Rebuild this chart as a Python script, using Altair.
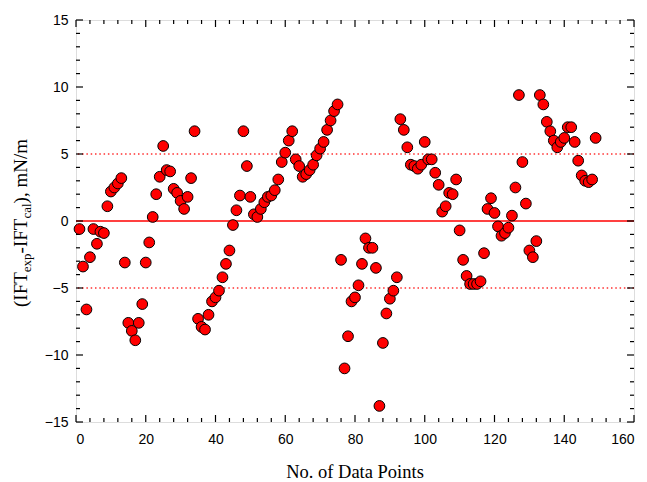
import altair as alt
import pandas as pd

# ---- data ----
point_no = list(range(1, 150))
ift_diff = [
    -0.6, -3.4, -6.6, -2.7, -0.6, -1.7, -0.8, -0.9, 1.1, 2.2,
    2.5, 2.8, 3.2, -3.1, -7.6, -8.2, -8.9, -7.6, -6.2, -3.1,
    -1.6, 0.3, 2.0, 3.3, 5.6, 3.8, 3.7, 2.4, 2.1, 1.5,
    0.9, 1.8, 3.2, 6.7, -7.3, -7.9, -8.1, -7.0, -6.0, -5.7,
    -5.2, -4.2, -3.2, -2.2, -0.3, 0.8, 1.9, 6.7, 4.1, 1.8,
    0.5, 0.3, 0.9, 1.4, 1.8, 1.9, 2.3, 3.1, 4.4, 5.1,
    6.0, 6.7, 4.6, 4.1, 3.3, 3.5, 3.8, 4.2, 4.9, 5.4,
    5.9, 6.8, 7.5, 8.2, 8.7, -2.9, -11.0, -8.6, -6.0, -5.7,
    -4.8, -3.2, -1.3, -2.0, -2.0, -3.5, -13.8, -9.1, -6.9, -5.8,
    -5.2, -4.2, 7.6, 6.8, 5.5, 4.2, 4.1, 3.9, 4.2, 5.9,
    4.6, 4.6, 3.6, 2.7, 0.7, 1.1, 2.1, 2.0, 3.1, -0.7,
    -2.9, -4.1, -4.7, -4.7, -4.7, -4.5, -2.4, 0.9, 1.7, 0.6,
    -0.4, -1.1, -0.9, -0.5, 0.4, 2.5, 9.4, 4.4, 1.3, -2.2,
    -2.7, -1.5, 9.4, 8.7, 7.4, 6.7, 6.0, 5.5, 5.9, 6.2,
    7.0, 7.0, 5.9, 4.5, 3.4, 3.0, 2.9, 3.1, 6.2,
]
x_major = [0, 20, 40, 60, 80, 100, 120, 140, 160]
x_minor = [v for v in range(0, 161, 4) if v % 20 != 0]
y_major = [-15, -10, -5, 0, 5, 10, 15]
y_minor = [v for v in range(-15, 16) if v % 5 != 0]
zero_line = [0]
band_lines = [-5, 5]
x_title = "No. of Data Points"
y_title_parts = ["(IFT", "exp", "-IFT", "cal", "), mN/m"]

W, H = 558, 402
SANS = "Liberation Sans"
SERIF = "Liberation Serif"

xscale = alt.Scale(domain=[0, 160], nice=False, zero=False)
yscale = alt.Scale(domain=[-15, 15], nice=False, zero=False)

xaxis = alt.Axis(values=x_major, format="d", title=None, grid=False, domain=False,
                 ticks=False, tickSize=0, labelFont=SANS, labelFontSize=14,
                 labelColor="black", labelPadding=10)
yaxis = alt.Axis(values=y_major, format="d", title=None, grid=False, domain=False,
                 ticks=False, tickSize=0, labelFont=SANS, labelFontSize=14,
                 labelColor="black", labelPadding=8)

df = pd.DataFrame({"n": point_no, "d": ift_diff})

points = alt.Chart(df).mark_point(
    shape="circle", filled=True, fill="#FF0000", stroke="black",
    strokeWidth=1, size=115, opacity=1
).encode(
    x=alt.X("n:Q", scale=xscale, axis=xaxis),
    y=alt.Y("d:Q", scale=yscale, axis=yaxis),
)

zero = alt.Chart(pd.DataFrame({"v": zero_line})).mark_rule(
    color="#FF0000", strokeWidth=1.5
).encode(y=alt.Y("v:Q", scale=yscale, axis=yaxis))

bands = alt.Chart(pd.DataFrame({"v": band_lines})).mark_rule(
    color="#FF3030", strokeWidth=1.5, strokeDash=[1.5, 2.8]
).encode(y=alt.Y("v:Q", scale=yscale, axis=yaxis))


def xticks(vals, length):
    base = alt.Chart(pd.DataFrame({"v": vals})).mark_rule(color="black", strokeWidth=1.2)
    bottom = base.encode(x=alt.X("v:Q", scale=xscale, axis=xaxis),
                         y=alt.value(H), y2=alt.value(H - length))
    top = base.encode(x=alt.X("v:Q", scale=xscale, axis=xaxis),
                      y=alt.value(0), y2=alt.value(length))
    return [bottom, top]


def yticks(vals, length):
    base = alt.Chart(pd.DataFrame({"v": vals})).mark_rule(color="black", strokeWidth=1.2)
    left = base.encode(y=alt.Y("v:Q", scale=yscale, axis=yaxis),
                       x=alt.value(0), x2=alt.value(length))
    right = base.encode(y=alt.Y("v:Q", scale=yscale, axis=yaxis),
                        x=alt.value(W), x2=alt.value(W - length))
    return [left, right]


tick_layers = xticks(x_major, 7) + xticks(x_minor, 4) + yticks(y_major, 7) + yticks(y_minor, 4)


def txt(text, x, y, size, angle=0, align="left"):
    return alt.Chart(pd.DataFrame({"t": [text]})).mark_text(
        angle=angle, align=align, baseline="alphabetic", font=SERIF,
        fontSize=size, color="black"
    ).encode(x=alt.value(x), y=alt.value(y), text="t:N")


xt = txt(x_title, W / 2, 458, 18.5, align="center")

# y title built from pieces (rotated, with subscripts)
main_fs, sub_fs = 19, 13
widths_em = [1.833, 1.444, 1.833, 1.166, 3.389]
sizes = [main_fs, sub_fs, main_fs, sub_fs, main_fs]
base_x = -49
pos = 287
y_pieces = []
for part, w, s in zip(y_title_parts, widths_em, sizes):
    xoff = base_x + (4 if s == sub_fs else 0)
    y_pieces.append(txt(part, xoff, pos, s, angle=270))
    pos -= w * s

chart = alt.layer(
    bands, zero, *tick_layers, points, xt, *y_pieces
).properties(
    width=W, height=H,
    autosize=alt.AutoSizeParams(type="none"),
    padding={"left": 76, "top": 20, "right": 13, "bottom": 60},
).configure_view(
    stroke="black", strokeWidth=1.5
).configure(background="white")

chart.save("out.html", embed_options={"renderer": "svg", "actions": False})
